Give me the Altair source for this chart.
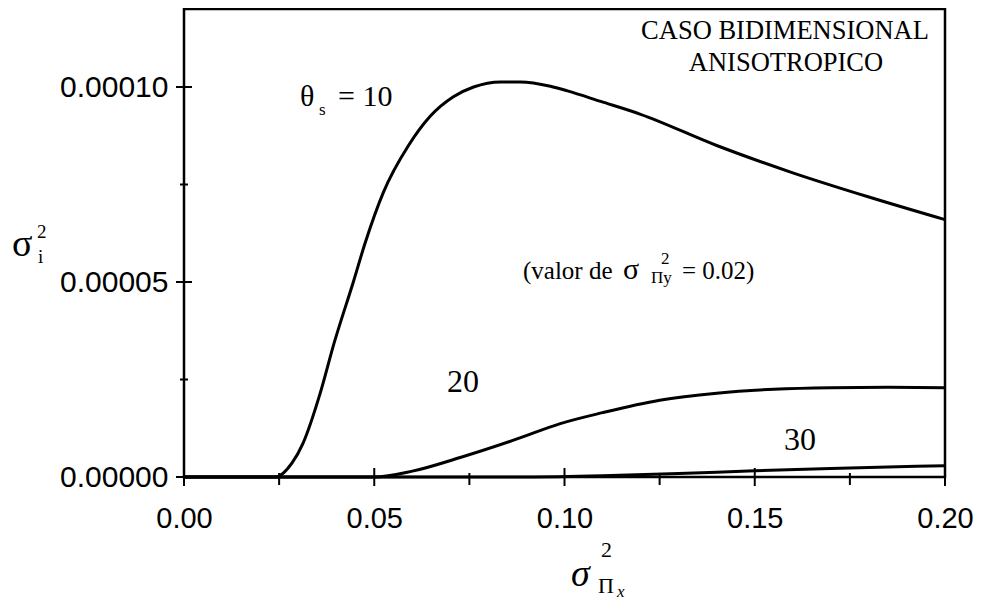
import altair as alt
import pandas as pd

# ---- data ----
x10 = [0.0, 0.024, 0.0284, 0.0313, 0.0358, 0.0395, 0.0445, 0.0476, 0.0524, 0.059,
       0.0647, 0.0708, 0.0761, 0.0832, 0.0884, 0.0963, 0.1008, 0.1095, 0.12, 0.14,
       0.16, 0.18, 0.2]
y10 = [0.0, 0.0, 3.6e-6, 8.7e-6, 2.15e-5, 3.45e-5, 5.0e-5, 6.0e-5, 7.3e-5, 8.5e-5,
       9.25e-5, 9.75e-5, 1.0e-4, 1.013e-4, 1.013e-4, 1.002e-4, 9.9e-5, 9.63e-5, 9.3e-5, 8.5e-5,
       7.8e-5, 7.18e-5, 6.6e-5]

x20 = [0.0, 0.05, 0.06, 0.0726, 0.0868, 0.0989, 0.11, 0.125, 0.14, 0.155, 0.17, 0.185, 0.2]
y20 = [0.0, 0.0, 1.5e-6, 5.0e-6, 9.5e-6, 1.37e-5, 1.65e-5, 1.97e-5, 2.15e-5, 2.25e-5, 2.29e-5, 2.30e-5, 2.29e-5]

x30 = [0.0, 0.09, 0.11, 0.13, 0.15, 0.17, 0.19, 0.2]
y30 = [0.0, 0.0, 3e-7, 9e-7, 1.6e-6, 2.2e-6, 2.7e-6, 2.9e-6]

series_names = ["10", "20", "30"]

x_major = [0.0, 0.05, 0.10, 0.15, 0.20]
x_minor = [0.025, 0.075, 0.125, 0.175]
y_major = [0.0, 0.00005, 0.0001]
y_minor = [0.000025, 0.000075]

# ---- build table ----
rows = []
for name, xs, ys in zip(series_names, [x10, x20, x30], [y10, y20, y30]):
    for a, b in zip(xs, ys):
        rows.append({"theta": name, "x": a, "y": b})
df = pd.DataFrame(rows)

W, H = 761, 468
XMAX, YMAX = 0.2, 0.00012
px_x = XMAX / W   # data units per pixel, x
px_y = YMAX / H   # data units per pixel, y
SERIF = "Liberation Serif"
SANS = "Liberation Sans"

xscale = alt.Scale(domain=[0, XMAX], nice=False, zero=False)
yscale = alt.Scale(domain=[0, YMAX], nice=False)

ax_x = alt.Axis(values=x_major, format=".2f", title=None, ticks=False, domain=False,
                grid=False, labelFont=SANS, labelFontSize=29, labelColor="black",
                labelPadding=27, labelFlush=False)
ax_y = alt.Axis(values=y_major, format=".5f", title=None, ticks=False, domain=False,
                grid=False, labelFont=SANS, labelFontSize=30, labelColor="black",
                labelPadding=16, labelFlush=False)

lines = alt.Chart(df).mark_line(color="black", strokeWidth=3, interpolate="monotone").encode(
    x=alt.X("x:Q", scale=xscale, axis=ax_x),
    y=alt.Y("y:Q", scale=yscale, axis=ax_y),
    detail="theta:N",
)

# tick marks that cross the axes (lengths in pixels converted to data units)
xt = pd.DataFrame(
    [{"x": v, "ya": -9 * px_y, "yb": 9 * px_y} for v in x_major]
    + [{"x": v, "ya": -8 * px_y, "yb": 4 * px_y} for v in x_minor])
yt = pd.DataFrame(
    [{"y": v, "xa": -8 * px_x, "xb": 8 * px_x} for v in y_major]
    + [{"y": v, "xa": -4 * px_x, "xb": 4 * px_x} for v in y_minor])

xticks = alt.Chart(xt).mark_rule(color="black", strokeWidth=2).encode(
    x=alt.X("x:Q", scale=xscale, axis=ax_x),
    y=alt.Y("ya:Q", scale=yscale, axis=ax_y), y2="yb:Q")
yticks = alt.Chart(yt).mark_rule(color="black", strokeWidth=2).encode(
    y=alt.Y("y:Q", scale=yscale, axis=ax_y),
    x=alt.X("xa:Q", scale=xscale, axis=ax_x), x2="xb:Q")

def label(text, x, y, size, style="normal", align="left"):
    return alt.Chart(pd.DataFrame({"t": [text]})).mark_text(
        align=align, baseline="alphabetic", font=SERIF, fontSize=size, fontStyle=style,
        color="black").encode(text="t:N", x=alt.value(x), y=alt.value(y))

texts = [
    label("CASO BIDIMENSIONAL", 601, 30, 26.5, align="center"),
    label("ANISOTROPICO", 602, 62, 26.5, align="center"),
    label("\u03b8", 116, 97, 30),
    label("s", 135, 106, 17),
    label("= 10", 154, 97, 30),
    label("20", 263, 383, 32),
    label("30", 600, 441, 32),
    label("(valor de", 339, 270, 25),
    label("\u03c3", 439, 270, 30),
    label("2", 477, 255, 17),
    label("\u03a0y", 467, 274, 17),
    label("= 0.02)", 498, 270, 25),
    # y title
    label("\u03c3", -172, 247, 38),
    label("2", -147, 229, 19),
    label("i", -146, 254, 19),
    # x title
    label("\u03c3", 387, 577, 38, style="italic"),
    label("2", 417, 548, 22),
    label("\u03a0", 414, 584, 22),
    label("x", 433, 588, 17, style="italic"),
]

chart = alt.layer(
    lines, xticks, yticks, *texts,
).properties(
    width=W, height=H,
    autosize=alt.AutoSizeParams(type="none"),
    padding={"left": 176, "top": 1, "right": 29, "bottom": 124},
).configure(background="white").configure_view(stroke="black", strokeWidth=2.5)

chart.save("out.html", embed_options={"renderer": "svg", "actions": False})
